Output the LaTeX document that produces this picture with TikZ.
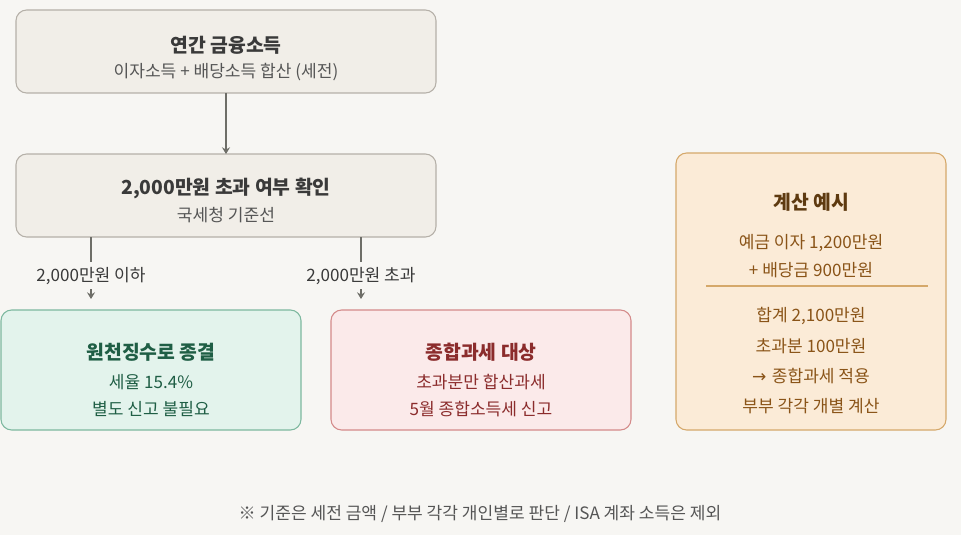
\documentclass[tikz,border=0pt]{standalone}
\usepackage{fontspec}
\setmainfont{Noto Sans CJK KR}
\usetikzlibrary{arrows.meta}
\definecolor{bg}{HTML}{F7F6F3}
\definecolor{gfill}{HTML}{F1EEE8}\definecolor{gline}{HTML}{B5B0A8}
\definecolor{tfill}{HTML}{E3F3EC}\definecolor{tline}{HTML}{7DB89F}\definecolor{ttext}{HTML}{1F5E45}
\definecolor{rfill}{HTML}{FBEAEA}\definecolor{rline}{HTML}{D48A8A}\definecolor{rtext}{HTML}{8B2C2C}
\definecolor{ofill}{HTML}{FBEBD7}\definecolor{oline}{HTML}{D5A86A}\definecolor{otext}{HTML}{8A5418}\definecolor{otitle}{HTML}{5E3A10}
\definecolor{dark}{HTML}{3A3A3A}\definecolor{mid}{HTML}{555555}\definecolor{arr}{HTML}{6E6E68}
\begin{document}
\begin{tikzpicture}[x=0.75pt,y=-0.75pt,
  box/.style={draw, line width=0.8pt, rounded corners=8pt},
  title/.style={font=\bfseries\fontsize{14.5}{16}\selectfont},
  sub/.style={font=\fontsize{12.8}{14}\selectfont},
  conn/.style={draw=arr, line width=1.2pt},
  tip/.style={-{Stealth[length=5pt,width=6pt]}}]
\fill[bg] (0,0) rectangle (961,535);
\useasboundingbox (0,0) rectangle (961,535);
\draw[box, fill=gfill, draw=gline] (16,10) rectangle (436,93);
\node[title, text=dark] (t1) at (226,45) {연간 금융소득};
\node[sub, text=mid] (s1) at (226,72) {이자소득 + 배당소득 합산 (세전)};
\draw[box, fill=gfill, draw=gline] (16,154) rectangle (436,237);
\node[title, text=dark] (t2) at (226,188) {2,000만원 초과 여부 확인};
\node[sub, text=mid] (s2) at (226,215) {국세청 기준선};
\coordinate (a1) at (226,93); \coordinate (a2) at (226,154);
\draw[conn, tip] (a1) -- (a2);
\coordinate (l1) at (91,237); \coordinate (l2) at (91,262);
\coordinate (l3) at (91,289); \coordinate (l4) at (91,299);
\coordinate (r1) at (361,237); \coordinate (r2) at (361,262);
\coordinate (r3) at (361,289); \coordinate (r4) at (361,299);
\draw[conn] (l1) -- (l2); \draw[conn] (r1) -- (r2);
\draw[conn, tip, line width=0.9pt] (l3) -- (l4);
\draw[conn, tip, line width=0.9pt] (r3) -- (r4);
\node[sub, text=dark] (lb1) at (91,276) {2,000만원 이하};
\node[sub, text=dark] (lb2) at (361,276) {2,000만원 초과};
\draw[box, fill=tfill, draw=tline] (1,310) rectangle (301,430);
\node[title, text=ttext] (t3) at (151,352) {원천징수로 종결};
\node[sub, text=ttext] at (151,382) {세율 15.4\%};
\node[sub, text=ttext] at (151,409) {별도 신고 불필요};
\draw[box, fill=rfill, draw=rline] (331,310) rectangle (631,430);
\node[title, text=rtext] (t4) at (481,352) {종합과세 대상};
\node[sub, text=rtext] at (481,382) {초과분만 합산과세};
\node[sub, text=rtext] at (481,409) {5월 종합소득세 신고};
\draw[box, fill=ofill, draw=oline] (676,153) rectangle (946,430);
\node[title, text=otitle] (t5) at (811,202) {계산 예시};
\node[sub, text=otext] at (811,243) {예금 이자 1,200만원};
\node[sub, text=otext] at (811,270) {+ 배당금 900만원};
\draw[oline, line width=0.8pt] (706,286) -- (928,286);
\node[sub, text=otext] at (811,316) {합계 2,100만원};
\node[sub, text=otext] at (811,346) {초과분 100만원};
\node[sub, text=otext] at (811,376) {\fontspec{DejaVu Sans}→\ \fontspec{Noto Sans CJK KR}종합과세 적용};
\node[sub, text=otext] at (811,406) {부부 각각 개별 계산};
\node[sub, text=mid] (fn) at (480,514) {※ 기준은 세전 금액 / 부부 각각 개인별로 판단 / ISA 계좌 소득은 제외};
\end{tikzpicture}
\end{document}
